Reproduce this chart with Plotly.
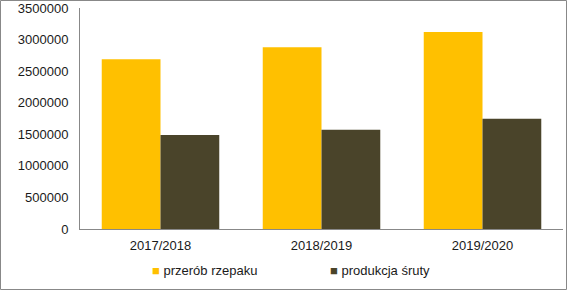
import plotly.graph_objects as go

categories = ["2017/2018", "2018/2019", "2019/2020"]
przerob = [2690000, 2880000, 3120000]
sruta = [1490000, 1570000, 1745000]
series_names = ["przerób rzepaku", "produkcja śruty"]
colors = ["#FFC000", "#4A442A"]

W, H = 567, 290
ml, mr, mt, mb = 80, 4, 8, 61
pw, ph = W - ml - mr, H - mt - mb

fig = go.Figure()
for name, vals, col in zip(series_names, [przerob, sruta], colors):
    fig.add_trace(go.Bar(x=categories, y=vals, name=name, marker=dict(color=col, line=dict(width=0))))

font = dict(family="Liberation Sans, Arial, sans-serif", size=13, color="#1a1a1a")
fig.update_layout(
    width=W, height=H,
    margin=dict(l=ml, r=mr, t=mt, b=mb, autoexpand=False),
    paper_bgcolor="white", plot_bgcolor="white",
    barmode="group", bargap=0.27, bargroupgap=0,
    font=font,
    showlegend=False,
    xaxis=dict(showline=True, linecolor="#888888", linewidth=1, ticks="", showgrid=False,
               tickfont=font, ticklabelstandoff=4),
    yaxis=dict(range=[0, 3500000], dtick=500000, showline=True, linecolor="#888888", linewidth=1,
               ticks="", showgrid=False, zeroline=False, tickformat="d", tickfont=font,
               ticklabelstandoff=8),
)

# legend entries as text with coloured square glyphs
legend_x = [150, 328]
for name, col, lx in zip(series_names, colors, legend_x):
    fig.add_annotation(
        xref="paper", yref="paper",
        x=(lx - ml) / pw, y=-(270 - mt - ph) / ph,
        xanchor="left", yanchor="middle", showarrow=False,
        text=f'<span style="color:{col}">■</span> {name}',
        font=font,
    )

fig.add_shape(type="rect", xref="paper", yref="paper",
              x0=(0.5 - ml) / pw, x1=(W - 0.5 - ml) / pw,
              y0=-(mb - 0.5) / ph, y1=(ph + mt - 0.5) / ph,
              line=dict(color="#888888", width=1), fillcolor="rgba(0,0,0,0)", layer="below")
fig.write_html("out.html")
